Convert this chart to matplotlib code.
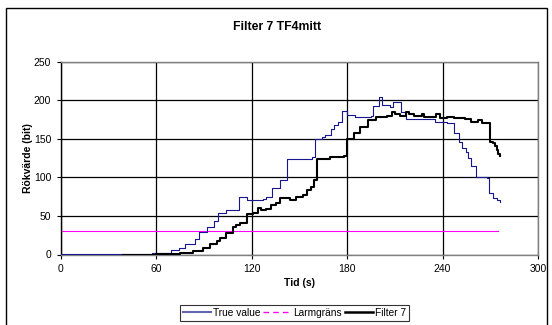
import matplotlib
matplotlib.use("Agg")
import matplotlib.pyplot as plt
from matplotlib.lines import Line2D
from matplotlib.patches import Rectangle

plt.rcParams['font.family'] = ['Liberation Sans', 'DejaVu Sans']

# Data (time in s, smoke value in bit)
true_t = [0, 57, 69, 74, 78, 84, 87, 92, 96, 99, 104, 108, 112, 117, 121, 127, 129, 133,
          138, 142, 158, 160, 164, 166, 170, 172, 174, 177, 180, 185, 195, 196, 200, 202,
          207, 209, 213, 214, 217, 234, 235, 243, 247, 250, 252, 255, 256, 258, 261, 262,
          268, 269, 272, 274, 276]
true_v = [1, 2.5, 6, 8, 13, 20, 29.5, 36, 44, 54, 58, 58, 74, 71, 70, 72, 74, 86,
          96, 124, 126, 149, 152, 155, 163, 168, 172, 186, 181, 178, 179, 193, 204, 194,
          191, 197, 197, 185, 176, 176, 172, 170, 158, 146, 138, 133, 125, 114, 101, 100,
          99, 80, 73, 70, 68]

filt_t = [39, 60, 70, 75, 83, 89, 94, 98, 100, 104, 108, 110, 112.6, 117, 121, 124, 126,
          129, 132, 135, 138, 144, 148, 152, 155, 157, 159, 161, 169, 178, 180, 184, 188,
          193, 198, 205, 208, 210, 213, 217, 219, 222, 227, 228, 236, 238.4, 242.6, 247,
          254, 258, 262, 264.6, 269.8, 271.8, 273, 274, 275, 276]
filt_v = [0, 0.5, 1, 2.5, 4.5, 8, 13.6, 17, 21, 28, 36, 38, 40.5, 52.5, 54, 60, 58,
          59, 64, 67, 73, 70.6, 75, 77, 83, 87.5, 96.5, 124, 126, 127, 150, 157, 165,
          174, 178.5, 179, 185, 182, 179.4, 184, 182, 180, 182, 178, 182, 176.5, 178.5, 176.4,
          175, 172, 174, 170, 146, 144, 140, 135, 130, 127]

alarm_t = [0, 275]
alarm_v = [30, 30]

x_ticks = [0, 60, 120, 180, 240, 300]
y_ticks = [0, 50, 100, 150, 200, 250]

W, H = 552, 325
fig = plt.figure(figsize=(W / 100, H / 100), dpi=100)
fig.patch.set_facecolor('white')

# outer chart border
fig.patches.append(Rectangle((6 / W, -0.05), (547 - 6) / W, 1.05 - 8 / H,
                             transform=fig.transFigure, fill=False,
                             edgecolor='black', linewidth=1.0))

left, right, top, bottom = 61, 538, 61.5, 254.5
ax = fig.add_axes([left / W, 1 - bottom / H, (right - left) / W, (bottom - top) / H])

ax.plot(true_t, true_v, drawstyle='steps-post', color='#16168f', linewidth=0.8, zorder=3)
ax.plot(alarm_t, alarm_v, color='#ff00ff', linewidth=0.8, zorder=2)
ax.plot(filt_t, filt_v, drawstyle='steps-post', color='black', linewidth=1.5, zorder=4)

ax.set_xlim(0, 300)
ax.set_ylim(0, 250)
ax.set_xticks(x_ticks)
ax.set_yticks(y_ticks)
ax.tick_params(labelsize=7.5, length=3, width=0.8, colors='black', pad=4)
ax.grid(True, color='black', linewidth=0.9, zorder=1)
ax.set_axisbelow(True)
for s in ['top', 'right', 'bottom']:
    ax.spines[s].set_color('#808080')
    ax.spines[s].set_linewidth(1.0)
ax.spines['left'].set_color('black')
ax.spines['left'].set_linewidth(1.0)

ax.set_xlabel('Tid (s)', fontsize=7.5, fontweight='bold', labelpad=3)
ax.set_ylabel('Rökvärde (bit)', fontsize=7.5, fontweight='bold', labelpad=1)

fig.text(277 / W, 1 - 27 / H, 'Filter 7 TF4mitt', ha='center', va='center',
         fontsize=8.8, fontweight='bold')

handles = [Line2D([], [], color='#6464b4', linewidth=1.5),
           Line2D([], [], color='#ff00ff', linewidth=1.0, linestyle=(0, (4, 3))),
           Line2D([], [], color='black', linewidth=1.8)]
labels = ['True value', 'Larmgräns', 'Filter 7']
leg = fig.legend(handles, labels, loc='upper left',
                 bbox_to_anchor=(180 / W, 1 - 305 / H), ncol=3, fontsize=7.3,
                 frameon=True, fancybox=False, edgecolor='black', handlelength=2.8,
                 handletextpad=0.15, columnspacing=0.3, borderpad=0.3,
                 borderaxespad=0)
leg.get_frame().set_linewidth(0.8)

fig.savefig('out.png', dpi=100, facecolor='white')
